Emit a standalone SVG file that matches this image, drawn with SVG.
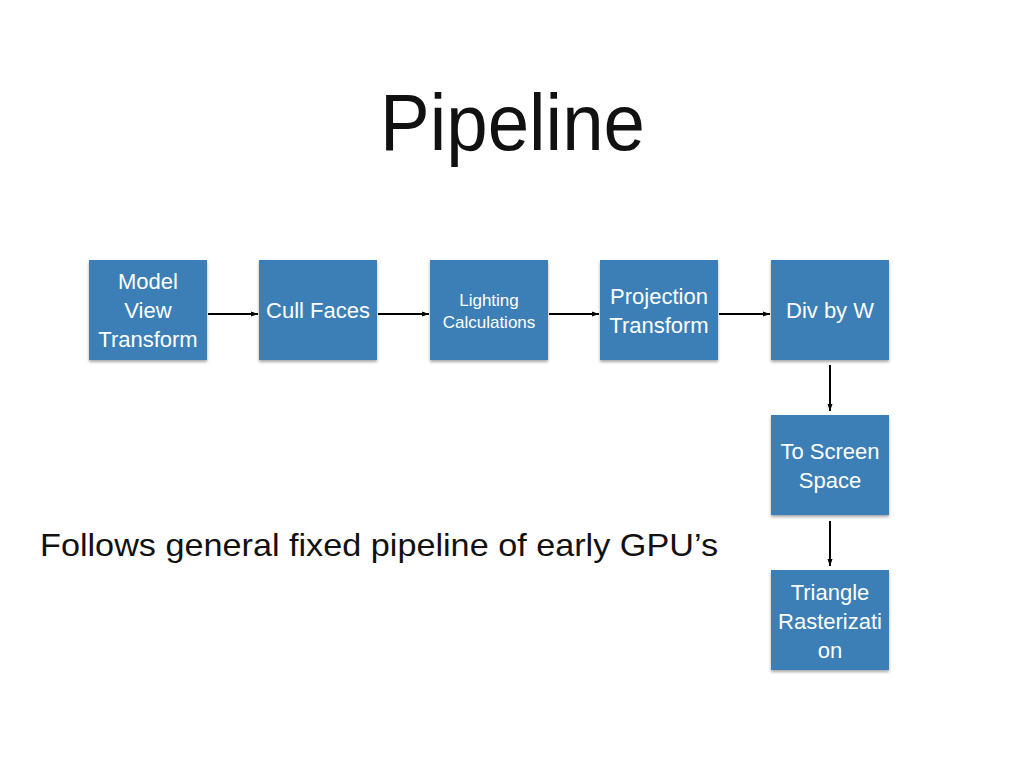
<svg xmlns="http://www.w3.org/2000/svg" width="1024" height="768" viewBox="0 0 1024 768">
<defs>
<style>
.box{fill:#3a7fb6;filter:url(#sh);}
.t{font-family:"Liberation Sans",Arial,sans-serif;fill:#ffffff;text-anchor:middle;font-size:22px;}
.ts{font-size:17px;}
.c{stroke:#000;stroke-width:2;fill:none;marker-end:url(#ah);}
</style>
<filter id="sh" x="-10%" y="-10%" width="120%" height="125%">
<feGaussianBlur in="SourceAlpha" stdDeviation="1.5"/>
<feOffset dx="0" dy="2" result="b"/>
<feComponentTransfer><feFuncA type="linear" slope="0.35"/></feComponentTransfer>
<feMerge><feMergeNode/><feMergeNode in="SourceGraphic"/></feMerge>
</filter>
<marker id="ah" markerWidth="8" markerHeight="8" refX="7" refY="4" orient="auto" markerUnits="userSpaceOnUse">
<path d="M0,1.5 L7,4 L0,6.5 Z" fill="#000"/>
</marker>
</defs>
<rect width="1024" height="768" fill="#ffffff"/>
<text x="380" y="150" font-family="Liberation Sans,Arial,sans-serif" font-size="80" textLength="265" lengthAdjust="spacingAndGlyphs" fill="#111">Pipeline</text>
<text x="40" y="556" font-family="Liberation Sans,Arial,sans-serif" font-size="32" textLength="678" lengthAdjust="spacingAndGlyphs" fill="#111">Follows general fixed pipeline of early GPU’s</text>
<g id="connectors">
<line class="c" x1="208" y1="314" x2="258" y2="314"/>
<line class="c" x1="378" y1="314" x2="429" y2="314"/>
<line class="c" x1="549" y1="314" x2="599" y2="314"/>
<line class="c" x1="719" y1="314" x2="770" y2="314"/>
<line class="c" x1="830" y1="365" x2="830" y2="411"/>
<line class="c" x1="830" y1="521" x2="830" y2="566"/>
</g>
<g id="n1"><rect class="box" x="89" y="260" width="118" height="100"/>
<text class="t" x="148" y="289">Model</text><text class="t" x="148" y="318">View</text><text class="t" x="148" y="347">Transform</text></g>
<g id="n2"><rect class="box" x="259" y="260" width="118" height="100"/>
<text class="t" x="318" y="318">Cull Faces</text></g>
<g id="n3"><rect class="box" x="430" y="260" width="118" height="100"/>
<text class="t ts" x="489" y="306">Lighting</text><text class="t ts" x="489" y="328">Calculations</text></g>
<g id="n4"><rect class="box" x="600" y="260" width="118" height="100"/>
<text class="t" x="659" y="304">Projection</text><text class="t" x="659" y="333">Transform</text></g>
<g id="n5"><rect class="box" x="771" y="260" width="118" height="100"/>
<text class="t" x="830" y="318">Div by W</text></g>
<g id="n6"><rect class="box" x="771" y="415" width="118" height="100"/>
<text class="t" x="830" y="459">To Screen</text><text class="t" x="830" y="488">Space</text></g>
<g id="n7"><rect class="box" x="771" y="570" width="118" height="100"/>
<text class="t" x="830" y="600">Triangle</text><text class="t" x="830" y="629">Rasterizati</text><text class="t" x="830" y="658">on</text></g>
</svg>
